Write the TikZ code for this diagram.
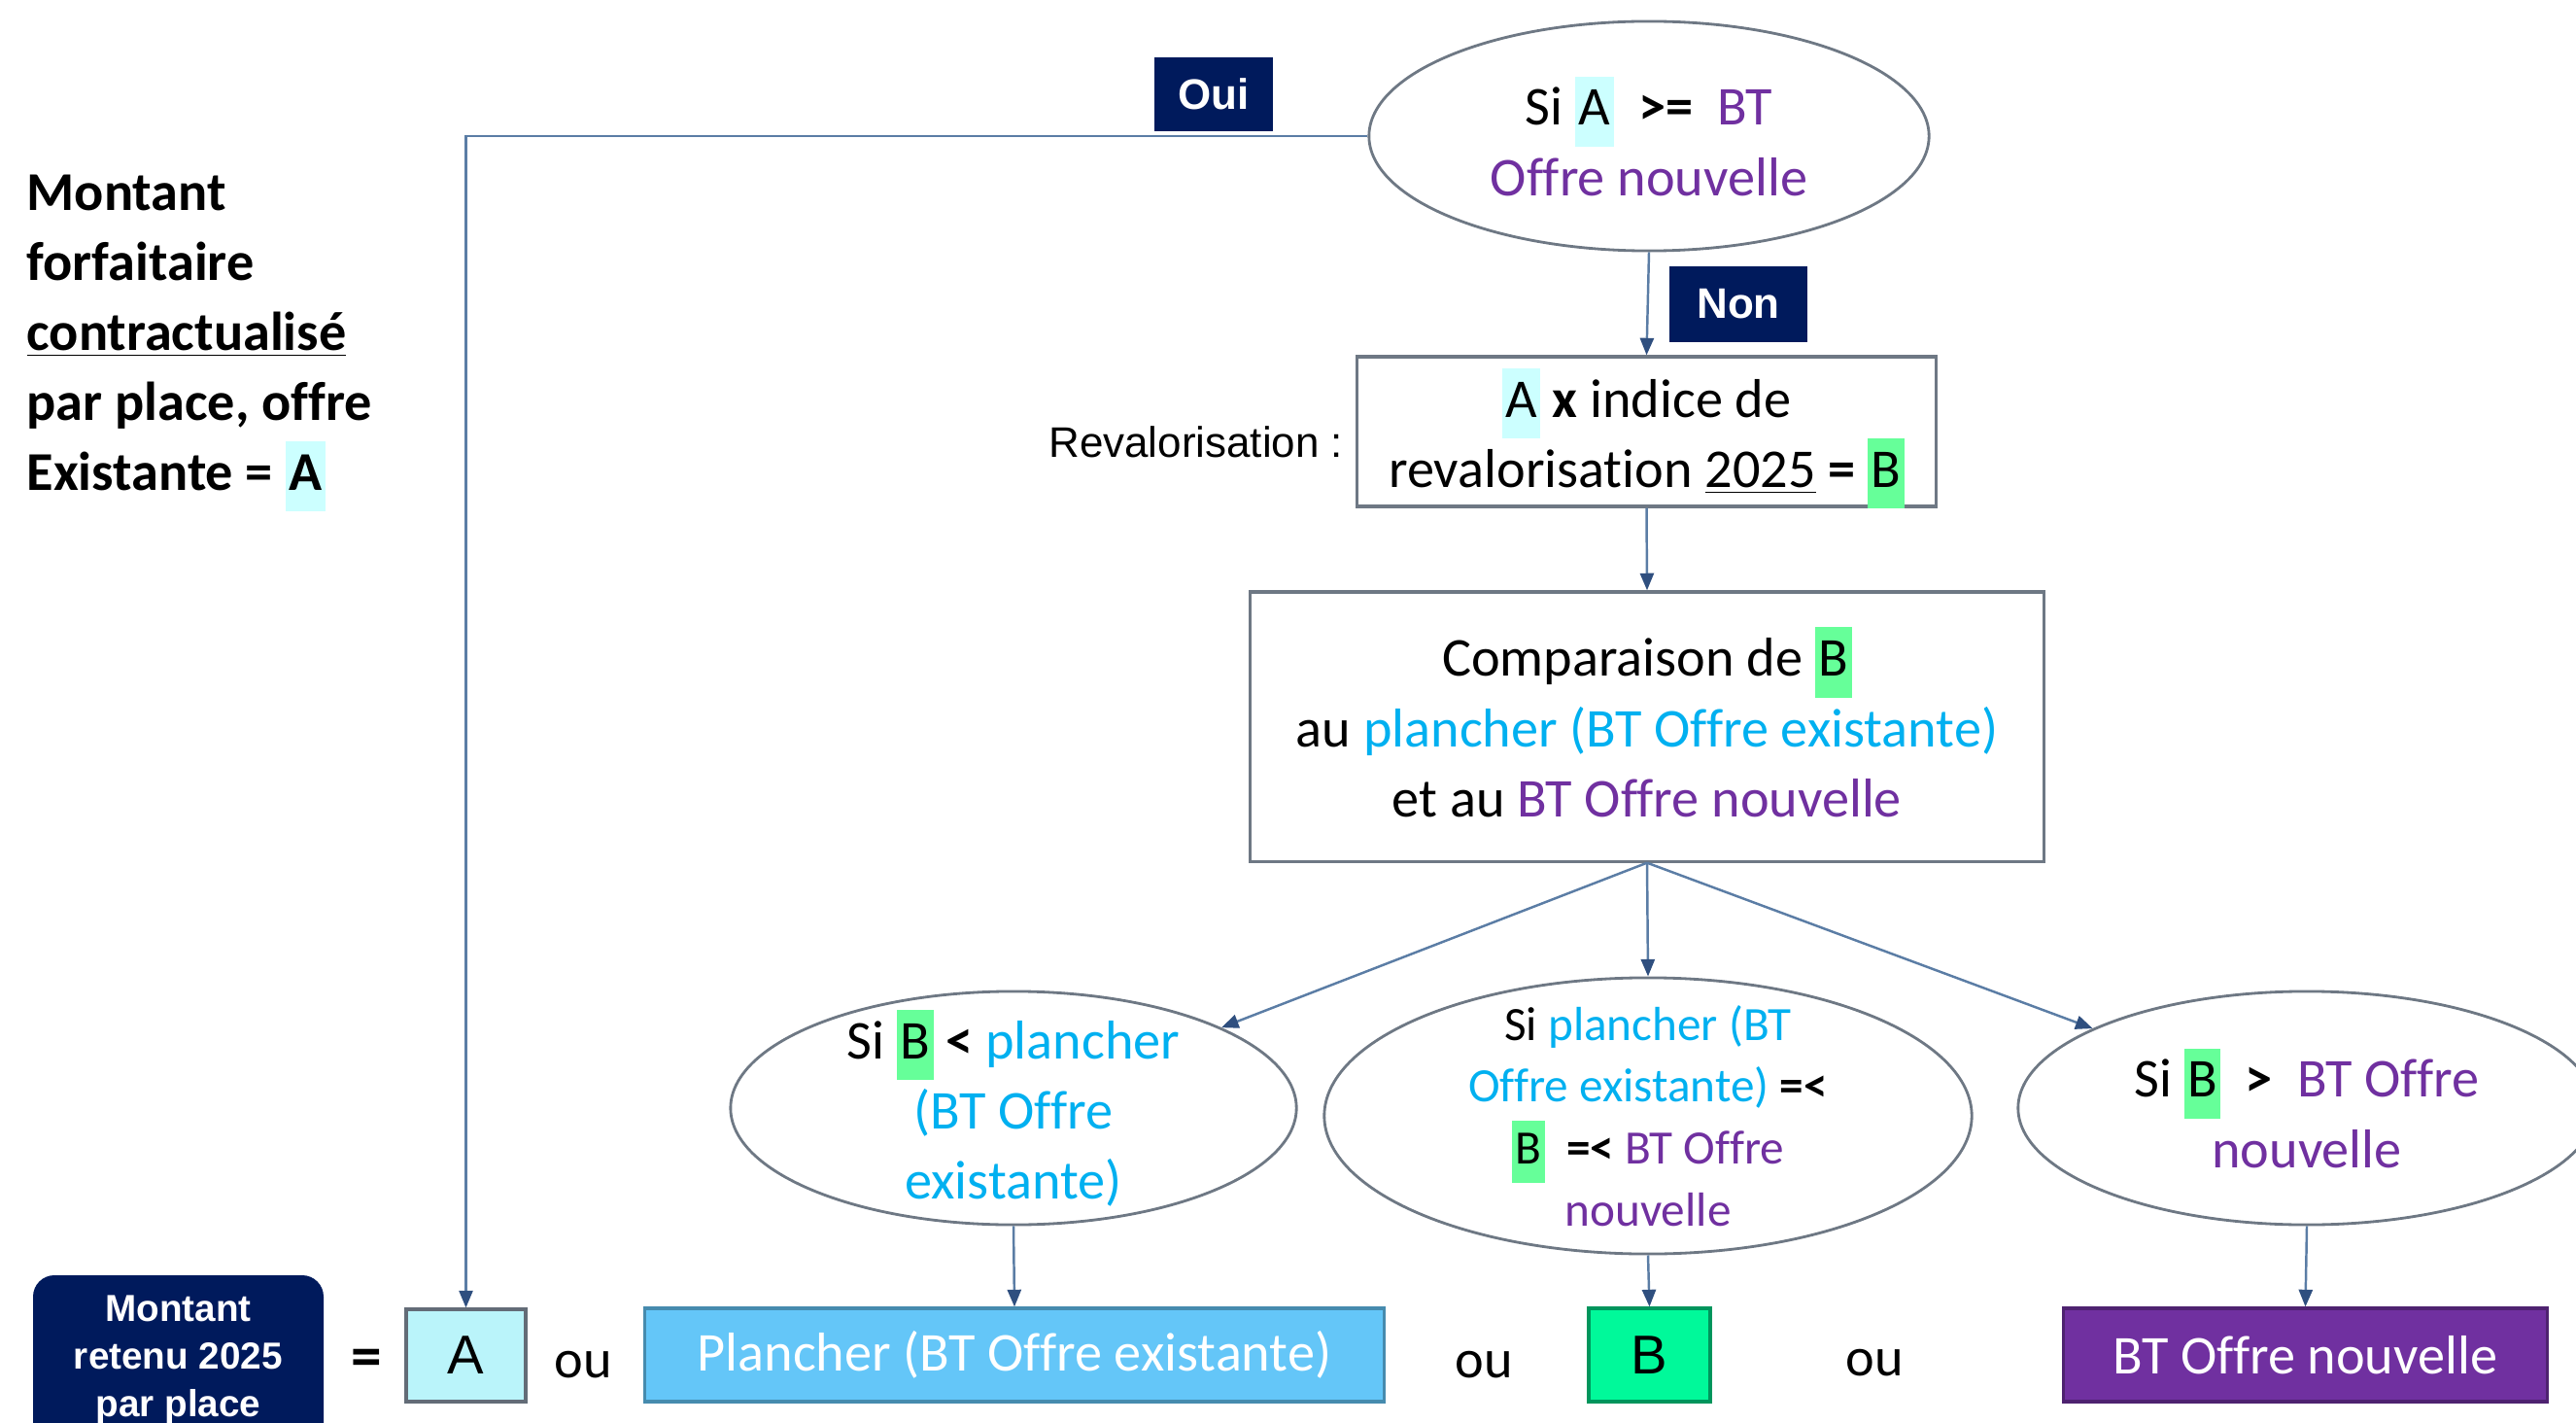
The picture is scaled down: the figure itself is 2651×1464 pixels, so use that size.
\documentclass[tikz,border=0pt]{standalone}
\usepackage{fontspec}
\setmainfont{Carlito}[Ligatures=NoCommon]
\newfontfamily\arialf{Liberation Sans}
\usetikzlibrary{shapes.geometric,arrows.meta}
\definecolor{navy}{HTML}{001A5C}
\definecolor{ppl}{HTML}{7030A0}
\definecolor{cyantxt}{HTML}{00B0F0}
\definecolor{hlcyan}{HTML}{CCFFFF}
\definecolor{hlgreen}{HTML}{66FF99}
\definecolor{connc}{HTML}{5B7DA5}
\definecolor{tipc}{HTML}{2F4F7F}
\definecolor{bordc}{HTML}{6E7884}
\definecolor{aboxc}{HTML}{BAF4FA}
\definecolor{plboxc}{HTML}{64C6F8}
\definecolor{bboxc}{HTML}{00F99A}
\newcommand{\hlt}[2]{{\setlength{\fboxsep}{0pt}\colorbox{#1}{\strut\hspace{1pt}#2\hspace{1pt}}}}
\newcommand{\fsA}{\fontsize{16}{20.5}\selectfont}
\newcommand{\fsB}{\fontsize{14}{18.1}\selectfont}
\begin{document}
\begin{tikzpicture}[x=0.01cm,y=-0.01cm,
  conn/.style={draw=connc,line width=0.7pt},
  arr/.style={conn,-{Triangle[length=5pt,width=4pt,color=tipc]}},
  ell/.style={ellipse,draw=bordc,line width=0.8pt,fill=white,inner sep=0pt,align=center,font=\fsA},
  box/.style={rectangle,draw=bordc,line width=0.9pt,fill=white,inner sep=0pt},
  tag/.style={rectangle,fill=navy,text=white,inner sep=0pt,font=\arialf\bfseries\fontsize{12.5}{15}\selectfont},
  res/.style={rectangle,line width=0.9pt,inner sep=0pt,font=\fsA},
  plain/.style={inner sep=0pt,font=\fsA}]
\useasboundingbox (0,0) rectangle (2651,1464);
\clip (0,0) rectangle (2651,1464);

% left title
\node[plain,anchor=west,align=left,font=\fsA\bfseries] (title) at (27,353)
  {Montant\\forfaitaire\\\underline{contractualisé}\\par place, offre\\Existante = \hlt{hlcyan}{A}};

% top decision
\node[ell,minimum width=5.76cm,minimum height=2.36cm] (top) at (1697,140)
  {Si \hlt{hlcyan}{A}\ \ \textbf{>=}\ \ \textcolor{ppl}{BT}\\\textcolor{ppl}{Offre nouvelle}};
\node[tag,minimum width=1.22cm,minimum height=0.76cm] (oui) at (1249,97) {Oui};
\node[tag,minimum width=1.42cm,minimum height=0.78cm] (non) at (1789,313) {Non};

% revalorisation
\node[box,minimum width=5.95cm,minimum height=1.54cm] (reval) at (1694.5,444) {};
\node[plain,align=center] (revalt) at (1694.5,451)
  {\hlt{hlcyan}{A} \textbf{x} indice de\\revalorisation \underline{2025} \textbf{=} \hlt{hlgreen}{B}};
\node[inner sep=0pt,anchor=east,font=\arialf\fontsize{12.5}{15}\selectfont] (revlab) at (1383,455) {Revalorisation :};

% comparaison
\node[box,minimum width=8.16cm,minimum height=2.77cm] (comp) at (1695,747.5) {};
\node[plain,align=center] (compt) at (1695,743)
  {Comparaison de \hlt{hlgreen}{B}\\au \textcolor{cyantxt}{plancher (BT Offre existante)}\\et au \textcolor{ppl}{BT Offre nouvelle}};

% three cases
\node[ell,minimum width=5.82cm,minimum height=2.40cm,inner ysep=-0.17cm] (lell) at (1043,1140)
  {Si \hlt{hlgreen}{B} \textbf{<} \textcolor{cyantxt}{plancher}\\\textcolor{cyantxt}{(BT Offre}\\\textcolor{cyantxt}{existante)}};
\node[ell,minimum width=6.66cm,minimum height=2.84cm,inner ysep=-0.14cm,font=\fsB] (mell) at (1696,1148)
  {Si \textcolor{cyantxt}{plancher (BT}\\\textcolor{cyantxt}{Offre existante)} \textbf{=<}\\\hlt{hlgreen}{B}\ \ \textbf{=<} \textcolor{ppl}{BT Offre}\\\textcolor{ppl}{nouvelle}};
\node[ell,minimum width=5.94cm,minimum height=2.40cm] (rell) at (2374,1140)
  {Si \hlt{hlgreen}{B}\ \ \textbf{>}\ \ \textcolor{ppl}{BT Offre}\\\textcolor{ppl}{nouvelle}};

% bottom row
\fill[navy,rounded corners=0.22cm] (34,1312) rectangle (333,1520);
\node[inner sep=0pt,align=center,text=white,font=\arialf\bfseries\fontsize{11}{14}\selectfont] (ret) at (183.5,1399)
  {Montant\\retenu 2025\\par place};
\node[plain,font=\fontsize{18}{20}\selectfont\bfseries] (eq) at (377,1402) {=};
\node[res,draw=bordc!90!black,fill=aboxc,minimum width=1.23cm,minimum height=0.95cm,font=\arialf\fontsize{16}{18}\selectfont] (abox) at (479.5,1394.5) {A};
\node[plain] (ou1) at (600,1404) {ou};
\node[res,draw=plboxc!70!black,fill=plboxc,text=white,minimum width=7.60cm,minimum height=0.96cm] (plbox) at (1044,1394) {Plancher (BT Offre existante)};
\node[plain] (ou2) at (1527,1404) {ou};
\node[res,draw=bboxc!60!black,fill=bboxc,minimum width=1.25cm,minimum height=0.96cm,font=\arialf\fontsize{16}{18}\selectfont] (bbox) at (1697.5,1394) {B};
\node[plain] (ou3) at (1929,1402) {ou};
\node[res,draw=ppl!70!black,fill=ppl,text=white,minimum width=4.97cm,minimum height=0.96cm] (nbox) at (2372.5,1394) {BT Offre nouvelle};

% connectors
\draw[arr] (top.west) -| (abox.north);
\draw[arr] (top.south) -- (reval.north);
\draw[arr] (reval.south) -- (comp.north);
\draw[arr] (comp.south) -- (lell);
\draw[arr] (comp.south) -- (mell.north);
\draw[arr] (comp.south) -- (rell);
\draw[arr] (lell.south) -- (plbox.north);
\draw[arr] (mell.south) -- (bbox.north);
\draw[arr] (rell.south) -- (nbox.north);
\end{tikzpicture}
\end{document}
